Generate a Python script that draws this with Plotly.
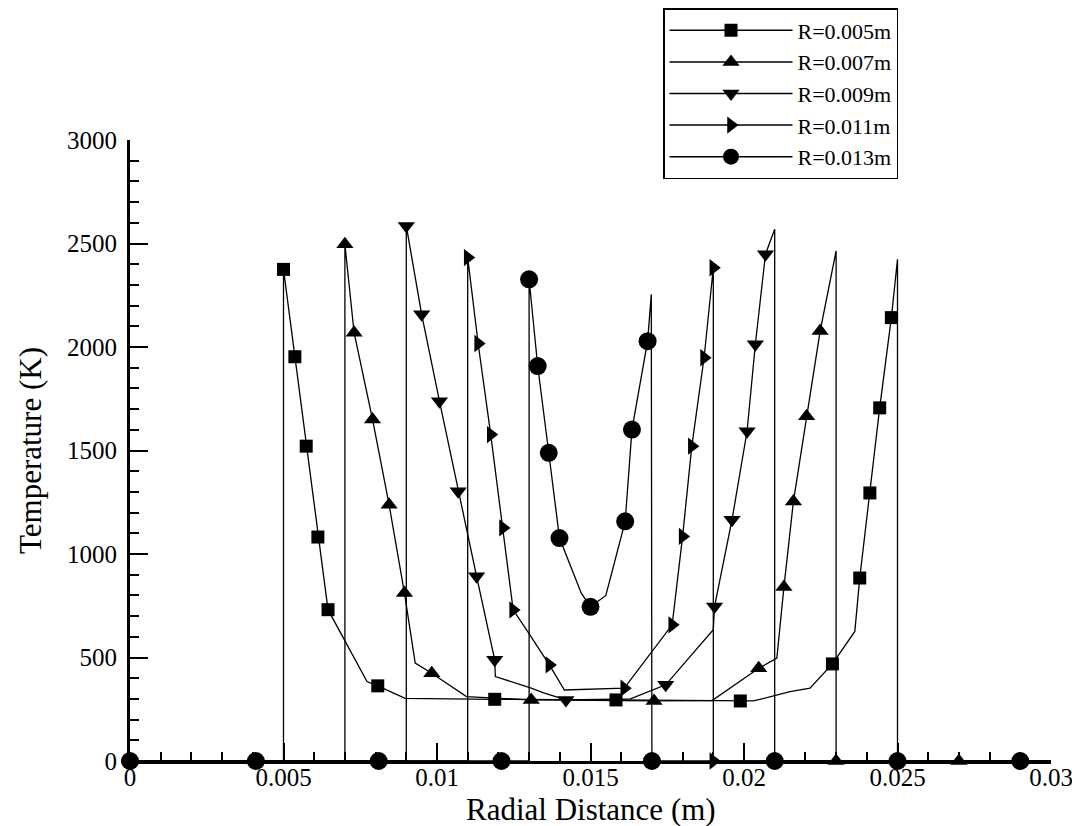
import plotly.graph_objects as go

# ---------------- data ----------------
labels = ["R=0.005m", "R=0.007m", "R=0.009m", "R=0.011m", "R=0.013m"]

x_005 = [0, 0.005, 0.005, 0.00537, 0.00574, 0.00612, 0.00645, 0.00772, 0.00807, 0.00896,
         0.01188, 0.01583, 0.01988, 0.02031, 0.0215, 0.02215, 0.02288, 0.02361, 0.02377,
         0.0241, 0.02442, 0.0248, 0.025, 0.025, 0.03]
t_005 = [0, 0, 2375, 1953, 1521, 1082, 731, 384, 363, 303,
         298, 295, 290, 290, 335, 352, 469, 626, 884,
         1295, 1706, 2142, 2424, 0, 0]
m_005 = [0, 0, 1, 1, 1, 1, 1, 0, 1, 0,
         1, 1, 1, 0, 0, 0, 1, 0, 1,
         1, 1, 1, 0, 0, 0]

x_007 = [0, 0.007, 0.007, 0.0073, 0.0079, 0.00844, 0.00894, 0.00929, 0.00983, 0.01096,
         0.01307, 0.01707, 0.01896, 0.02048, 0.02107, 0.0213, 0.02161, 0.02204, 0.02248,
         0.023, 0.023, 0.027, 0.03]
t_007 = [0, 0, 2496, 2069, 1650, 1238, 811, 473, 424, 311,
         295, 290, 292, 448, 497, 840, 1254, 1666, 2077,
         2464, 0, 0, 0]
m_007 = [0, 0, 1, 1, 1, 1, 1, 0, 1, 0,
         1, 1, 0, 1, 0, 1, 1, 1, 1,
         0, 1, 1, 0]

x_009 = [0, 0.009, 0.009, 0.0095, 0.01008, 0.01069, 0.01129, 0.01188, 0.0119, 0.01307,
         0.0135, 0.0142, 0.0163, 0.01745, 0.019, 0.01904, 0.01961, 0.0201, 0.02037,
         0.0207, 0.021, 0.021, 0.03]
t_009 = [0, 0, 2585, 2158, 1738, 1303, 892, 489, 408, 352,
         328, 295, 300, 368, 634, 746, 1166, 1593, 2013,
         2448, 2569, 0, 0]
m_009 = [0, 0, 1, 1, 1, 1, 1, 1, 0, 0,
         0, 1, 0, 1, 0, 1, 1, 1, 1,
         1, 0, 0, 0]

x_011 = [0, 0.011, 0.011, 0.01134, 0.01175, 0.01215, 0.01248, 0.01302, 0.01366, 0.01415,
         0.0161, 0.01766, 0.018, 0.0183, 0.0187, 0.019, 0.019, 0.03]
t_011 = [0, 0, 2432, 2017, 1577, 1126, 730, 610, 464, 343,
         352, 658, 1085, 1521, 1948, 2383, 0, 0]
m_011 = [0, 0, 1, 1, 1, 1, 1, 0, 1, 0,
         1, 1, 1, 1, 1, 1, 1, 0]

x_013 = [0, 0.0041, 0.0081, 0.0121, 0.013, 0.013, 0.01328, 0.01364, 0.01399, 0.0147,
         0.015, 0.0155, 0.01613, 0.01635, 0.01686, 0.01698, 0.017, 0.021, 0.025,
         0.029, 0.03]
t_013 = [0, 0, 0, 0, 0, 2327, 1908, 1489, 1077, 811,
         745, 800, 1158, 1601, 2028, 2254, 0, 0, 0,
         0, 0]
m_013 = [1, 1, 1, 1, 0, 1, 1, 1, 1, 0,
         1, 0, 1, 1, 1, 0, 1, 1, 1,
         1, 0]

x_ticks = [0, 0.005, 0.01, 0.015, 0.02, 0.025, 0.03]
x_ticktext = ["0", "0.005", "0.01", "0.015", "0.02", "0.025", "0.03"]
y_ticks = [0, 500, 1000, 1500, 2000, 2500, 3000]
y_ticktext = ["0", "500", "1000", "1500", "2000", "2500", "3000"]

series = [(x_005, t_005, m_005), (x_007, t_007, m_007), (x_009, t_009, m_009),
          (x_011, t_011, m_011), (x_013, t_013, m_013)]

# ---------------- styles ----------------
symbols = ["square", "triangle-up", "triangle-down", "triangle-right", "circle"]
msizes = [13, 15, 15, 15, 18]
FONT = "Liberation Serif, Times New Roman, serif"
LW = 1.3

# screen layout of the plot area (page body margin removed via post_script)
PL, PR, PT, PB = 130, 1051, 140, 761
W, H = 1072, 826
pw, ph = PR - PL, PB - PT

fig = go.Figure()
for (xs, ts, ms), lab, sym, sz in zip(series, labels, symbols, msizes):
    fig.add_trace(go.Scatter(
        x=xs, y=ts, mode="lines", legendgroup=lab, showlegend=False,
        line=dict(color="black", width=LW), cliponaxis=False, hoverinfo="skip",
    ))
    fig.add_trace(go.Scatter(
        x=[x for x, f in zip(xs, ms) if f], y=[t for t, f in zip(ts, ms) if f],
        mode="markers", legendgroup=lab, showlegend=False,
        marker=dict(symbol=sym, color="black", size=sz, opacity=1, line=dict(width=0)),
        cliponaxis=False,
    ))
    fig.add_trace(go.Scatter(
        x=[None], y=[None], mode="lines+markers", name=lab, legendgroup=lab,
        line=dict(color="black", width=1.5),
        marker=dict(symbol=sym, color="black", size=min(sz, 16), opacity=1, line=dict(width=0)),
    ))

axis_common = dict(
    showline=True, linecolor="black", linewidth=3,
    ticks="inside", ticklen=18, tickwidth=2, tickcolor="black",
    showgrid=False, zeroline=False, automargin=False,
    tickfont=dict(family=FONT, size=25, color="black"),
    tickmode="array", ticklabeloverflow="allow",
)

fig.update_layout(
    width=W, height=H,
    margin=dict(l=PL, r=W - PR, t=PT, b=H - PB, autoexpand=False),
    paper_bgcolor="white", plot_bgcolor="white",
    font=dict(family=FONT, color="black"),
    xaxis=dict(range=[0, 0.03], tickvals=x_ticks, ticktext=x_ticktext, ticklabelstandoff=-8,
               minor=dict(ticks="inside", ticklen=9, tickwidth=1.5, tick0=0, dtick=0.001,
                          tickcolor="black"),
               **axis_common),
    yaxis=dict(range=[0, 3000], tickvals=y_ticks, ticktext=y_ticktext, ticklabelstandoff=5,
               minor=dict(ticks="inside", ticklen=9, tickwidth=1.5, tick0=0, dtick=100,
                          tickcolor="black"),
               **axis_common),
    legend=dict(x=(663 - PL) / pw, xanchor="left", y=(PB - 8) / ph, yanchor="top",
                bordercolor="black", borderwidth=1.5, bgcolor="white",
                font=dict(family=FONT, size=22), itemsizing="trace",
                itemwidth=123, tracegroupgap=0),
    showlegend=True,
    annotations=[
        dict(text="Radial Distance (m)", xref="paper", yref="paper",
             x=(591 - PL) / pw, y=-(810 - PB) / ph, xanchor="center", yanchor="middle",
             showarrow=False, font=dict(family=FONT, size=31, color="black")),
        dict(text="Temperature (K)", xref="paper", yref="paper",
             x=(30 - PL) / pw, y=(PB - 451) / ph, xanchor="center", yanchor="middle",
             textangle=-90, showarrow=False, font=dict(family=FONT, size=31, color="black")),
    ],
)

fig.write_html(
    "out.html",
    config={"displayModeBar": False},
    post_script="document.body.style.margin='0';document.body.style.overflow='hidden';",
)
